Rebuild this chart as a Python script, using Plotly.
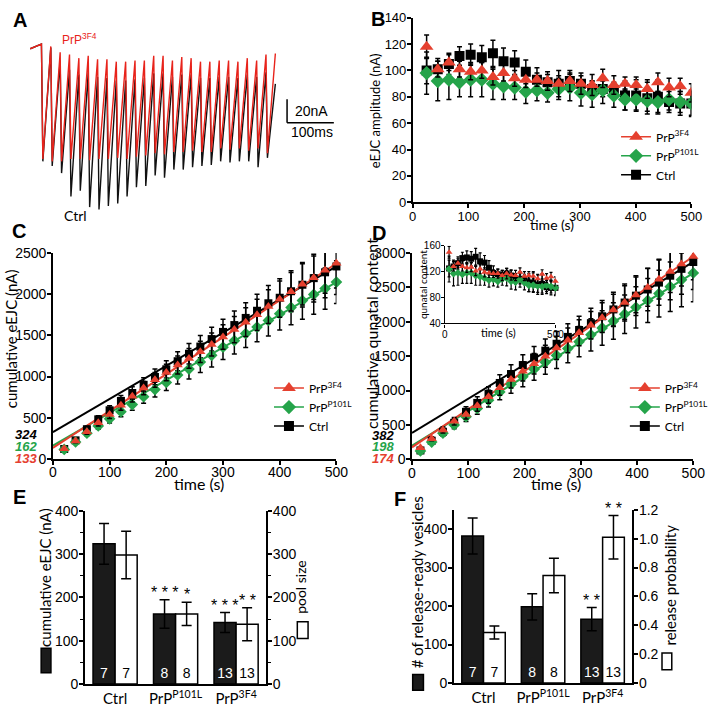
import plotly.graph_objects as go

W, H = 718, 708

# ======================= DATA =======================
# Panel A: example eEJC trains (nA) at 50 Hz
pulse_times_ms = [0, 20, 40, 60, 80, 100, 120, 140, 160, 180, 200, 220, 240,
                  260, 280, 300, 320, 340, 360, 380, 400, 420, 440, 460, 480]
a_red_top_nA = [4, 2, -3, -5, -8, -6, -9, -9, -11, -11, -10, -10, -6, -6, -10,
                -7, -8, -11, -11, -10, -10, -11, -8, -10, -5]
a_red_trough_nA = [-94, -96, -96, -94, -94, -95, -94, -94, -93, -94, -92, -91, -89,
                   -90, -88, -88, -87, -88, -88, -85, -86, -85, -87, -85, -89]
a_red_end_nA = -4
a_black_top_nA = [4, 1, -10, -18, -22, -20, -24, -25, -27, -27, -26, -25, -21, -21,
                  -24, -22, -22, -25, -25, -24, -24, -25, -22, -24, -20]
a_black_trough_nA = [-96, -100, -106, -126, -121, -135, -137, -134, -132, -126, -118,
                     -117, -108, -110, -103, -103, -101, -100, -99, -96, -97, -96,
                     -96, -101, -93]
a_black_end_nA = -30
a_baseline_nA = 0
scalebar_ms = 100
scalebar_nA = 20

# Panel B: eEJC amplitude (nA)
b_time_s = [25, 45, 65, 84, 104, 124, 144, 163, 183, 203, 223, 242, 262, 282, 302,
            322, 341, 361, 381, 401, 421, 440, 460, 480, 500]
b_3f4 = [118, 101, 106, 101, 99, 100, 95, 98, 94, 93, 93, 92, 90, 92, 90, 89, 94,
         89, 90, 89, 86, 91, 87, 88, 83]
b_3f4_err = [9, 6, 6, 6, 6, 6, 6, 6, 6, 6, 5, 7, 10, 8, 8, 8, 7, 7, 5, 6, 7, 7, 7, 6, 7]
b_p101l = [98, 92, 93, 91, 93, 93, 90, 88, 87, 84, 85, 83, 86, 87, 83, 82, 85, 81,
           78, 78, 77, 76, 78, 76, 75]
b_p101l_err = [16, 15, 15, 11, 13, 13, 12, 10, 9, 9, 8, 7, 8, 10, 10, 10, 10, 9, 8,
               8, 8, 8, 8, 8, 9]
b_ctrl = [100, 101, 105, 111, 112, 110, 113, 107, 106, 99, 93, 91, 90, 92, 90, 86,
          86, 85, 81, 81, 79, 80, 76, 75, 75]
b_ctrl_err = [10, 8, 8, 7, 8, 9, 10, 10, 9, 9, 9, 6, 6, 6, 6, 6, 6, 6, 11, 12, 12,
              13, 8, 9, 10]

# Panel C: cumulative eEJC (nA)
c_time_s = [20, 40, 60, 80, 100, 120, 140, 160, 180, 200, 220, 240, 260, 280, 300,
            320, 340, 360, 380, 400, 420, 440, 460, 480, 500]
c_ctrl = [120, 225, 360, 480, 590, 704, 800, 900, 995, 1088, 1186, 1277, 1364, 1455,
          1542, 1625, 1712, 1799, 1890, 1957, 2036, 2115, 2195, 2266, 2337]
c_ctrl_err = [15, 25, 35, 45, 55, 65, 75, 85, 95, 105, 115, 125, 135, 145, 155, 170,
              185, 200, 215, 230, 250, 270, 290, 310, 340]
c_3f4 = [122, 217, 328, 439, 540, 650, 760, 860, 960, 1050, 1140, 1220, 1300, 1390,
         1480, 1570, 1660, 1750, 1850, 1940, 2030, 2120, 2200, 2290, 2375]
c_3f4_err = [12, 20, 30, 40, 50, 60, 70, 80, 90, 100, 110, 120, 130, 140, 150, 160,
             175, 190, 205, 220, 235, 250, 265, 280, 300]
c_p101l = [115, 205, 311, 400, 486, 573, 660, 755, 842, 929, 1020, 1091, 1178, 1257,
           1356, 1435, 1522, 1601, 1681, 1764, 1839, 1922, 1997, 2068, 2147]
c_p101l_err = [12, 20, 30, 40, 50, 60, 70, 80, 90, 100, 110, 120, 130, 140, 150, 160,
               170, 180, 190, 200, 210, 225, 240, 250, 260]
# linear fits: [Ctrl, P101L, 3F4]
c_fit_intercept = [324, 162, 133]
c_fit_slope = [4.03, 3.97, 4.48]

# Panel D: cumulative quantal content
d_time_s = [15, 35, 55, 75, 96, 116, 136, 156, 176, 197, 217, 237, 257, 277, 297,
            318, 338, 358, 378, 398, 419, 439, 459, 479, 500]
d_ctrl = [128, 270, 400, 530, 690, 820, 950, 1110, 1240, 1370, 1480, 1580, 1680,
          1780, 1880, 1980, 2080, 2180, 2280, 2380, 2470, 2570, 2670, 2770, 2870]
d_ctrl_err = [20, 35, 50, 60, 75, 90, 105, 120, 135, 150, 160, 170, 180, 190, 200,
              215, 230, 250, 270, 290, 310, 330, 350, 370, 400]
d_3f4 = [166, 298, 426, 554, 650, 780, 910, 1040, 1160, 1280, 1390, 1500, 1620,
         1730, 1840, 1950, 2060, 2170, 2280, 2390, 2500, 2620, 2730, 2840, 2950]
d_3f4_err = [15, 30, 45, 55, 65, 80, 95, 110, 125, 140, 150, 160, 170, 180, 190,
             200, 215, 230, 245, 260, 275, 290, 305, 320, 340]
d_p101l = [120, 250, 380, 500, 620, 740, 860, 980, 1090, 1200, 1310, 1410, 1510,
           1610, 1710, 1810, 1910, 2010, 2110, 2210, 2310, 2410, 2510, 2610, 2710]
d_p101l_err = [15, 30, 45, 55, 70, 85, 100, 115, 130, 145, 160, 175, 190, 205, 220,
               235, 250, 265, 280, 300, 320, 340, 360, 390, 420]
d_fit_intercept = [382, 198, 174]
d_fit_slope = [4.98, 5.02, 5.55]

# Panel D inset: quantal content
ins_time_s = [20, 40, 60, 80, 100, 120, 140, 160, 180, 200, 220, 240, 260, 280, 300,
              320, 340, 360, 380, 400, 420, 440, 460, 480, 500]
ins_3f4 = [150, 128, 133, 128, 126, 127, 121, 124, 119, 118, 117, 117, 114, 117, 115,
           114, 119, 113, 114, 113, 109, 116, 110, 112, 105]
ins_3f4_err = [9, 7, 7, 7, 7, 7, 7, 7, 7, 7, 6, 7, 8, 8, 8, 8, 7, 7, 6, 7, 7, 7, 7, 7, 7]
ins_p101l = [124, 117, 118, 116, 118, 118, 114, 112, 110, 107, 108, 105, 109, 110,
             105, 104, 108, 103, 99, 99, 98, 97, 99, 97, 95]
ins_p101l_err = [20, 19, 19, 14, 16, 16, 15, 13, 11, 11, 10, 9, 10, 12, 12, 12, 12,
                 11, 10, 10, 10, 10, 10, 10, 11]
ins_ctrl = [125, 128, 133, 141, 142, 140, 143, 136, 134, 126, 118, 116, 114, 117,
            114, 109, 109, 108, 103, 103, 100, 101, 96, 95, 95]
ins_ctrl_err = [13, 10, 10, 9, 10, 11, 13, 13, 11, 11, 11, 8, 8, 8, 8, 8, 8, 8, 14,
                15, 15, 16, 10, 11, 12]

# Panel E
groups = ["Ctrl", "PrP<sup>P101L</sup>", "PrP<sup>3F4</sup>"]
e_eejc = [324, 162, 142]
e_eejc_err = [47, 33, 23]
e_pool = [298, 162, 138]
e_pool_err = [55, 27, 38]
e_n = [7, 8, 13]
e_eejc_sig = ["", "* * *", "* * *"]
e_pool_sig = ["", "*", "* *"]

# Panel F
f_rrv = [382, 198, 166]
f_rrv_err = [47, 34, 30]
f_prob = [0.35, 0.745, 1.01]
f_prob_err = [0.045, 0.12, 0.15]
f_n = [7, 8, 13]
f_rrv_sig = ["", "", "* *"]
f_prob_sig = ["", "", "* *"]
f_prob_ticks = [0, 0.2, 0.4, 0.6, 0.8, 1.0, 1.2]
f_prob_ticktext = ["0", "0.2", "0.4", "0.6", "0.8", "1.0", "1.2"]

# ======================= STYLE =======================
RED = "#e5402f"
GREEN = "#25a44a"
BLACK = "#000000"
TRACE_RED = "#e8231b"
BARBLACK = "#1b1b1b"
TICKF = "Liberation Sans"
TF = "Lato"


def xd(a, b):
    return [a / W, b / W]


def yd(top, bottom):
    return [1 - bottom / H, 1 - top / H]


def axis(domain, rng, anchor, size=14, **kw):
    d = dict(domain=domain, range=rng, anchor=anchor, showline=True,
             linecolor="black", linewidth=1.5, ticks="outside", ticklen=4,
             tickwidth=1.5, tickcolor="black", showgrid=False, zeroline=False,
             ticklabelstandoff=-2,
             tickfont=dict(family=TICKF, size=size, color="black"))
    d.update(kw)
    return d


annotations = []


def ann(text, x, y, size=14, color="black", family=TF, xanchor="center",
        yanchor="middle", angle=0):
    annotations.append(dict(text=text, x=x / W, y=1 - y / H, xref="paper",
                            yref="paper", showarrow=False, xanchor=xanchor,
                            yanchor=yanchor, textangle=angle,
                            font=dict(family=family, size=size, color=color)))


fig = go.Figure()

# ---------------- Panel A ----------------
A_X0_PX, A_PX_PER_MS = 38.3, 0.4785
A_Y0_PX, A_PX_PER_NA = 41.7, 1.2
A_LEAD_MS, A_FALL_MS, A_INTERVAL_MS = -24, 3, 20


def train_path(tops, troughs, end_val):
    xs, ys = [A_LEAD_MS], [a_baseline_nA]
    for t, top, tr in zip(pulse_times_ms, tops, troughs):
        xs += [t, t + A_FALL_MS]
        ys += [top, tr]
    xs.append(pulse_times_ms[-1] + A_INTERVAL_MS)
    ys.append(end_val)
    return xs, ys


bx, by = train_path(a_black_top_nA, a_black_trough_nA, a_black_end_nA)
rx, ry = train_path(a_red_top_nA, a_red_trough_nA, a_red_end_nA)
fig.add_trace(go.Scatter(x=bx, y=by, mode="lines", line=dict(color="#111111", width=1.4),
                         xaxis="x", yaxis="y", showlegend=False))
fig.add_trace(go.Scatter(x=rx, y=ry, mode="lines", line=dict(color=TRACE_RED, width=1.4),
                         xaxis="x", yaxis="y", showlegend=False))

# ---------------- Panel B ----------------
series_b = [("Ctrl", b_ctrl, b_ctrl_err, BLACK, "square", 10),
            ("PrP<sup>P101L</sup>", b_p101l, b_p101l_err, GREEN, "diamond", 11),
            ("PrP<sup>3F4</sup>", b_3f4, b_3f4_err, RED, "triangle-up", 12)]
for name, ys, err, col, sym, sz in series_b:
    fig.add_trace(go.Scatter(x=b_time_s, y=ys, mode="markers",
                             marker=dict(symbol=sym, size=sz, color=col),
                             error_y=dict(type="data", array=err, color="black",
                                          thickness=1.5, width=2.5),
                             xaxis="x2", yaxis="y2", showlegend=False))

# ---------------- Panel C / D ----------------
def cumulative_panel(xa, ya, times, sets, fit_b, fit_m):
    cols = [BLACK, GREEN, RED]
    for b0, m, col in zip(fit_b, fit_m, cols):
        fig.add_trace(go.Scatter(x=[0, 500], y=[b0, b0 + m * 500], mode="lines",
                                 line=dict(color=col, width=2), xaxis=xa, yaxis=ya,
                                 showlegend=False, cliponaxis=False))
    for ys, err, col, sym, sz in sets:
        fig.add_trace(go.Scatter(x=times, y=ys, mode="markers",
                                 marker=dict(symbol=sym, size=sz, color=col),
                                 error_y=dict(type="data", array=err, color="black",
                                              thickness=1.5, width=2.5),
                                 xaxis=xa, yaxis=ya, showlegend=False, cliponaxis=False))


cumulative_panel("x3", "y3", c_time_s,
                 [(c_ctrl, c_ctrl_err, BLACK, "square", 8),
                  (c_p101l, c_p101l_err, GREEN, "diamond", 9),
                  (c_3f4, c_3f4_err, RED, "triangle-up", 9)],
                 c_fit_intercept, c_fit_slope)
cumulative_panel("x4", "y4", d_time_s,
                 [(d_ctrl, d_ctrl_err, BLACK, "square", 8),
                  (d_p101l, d_p101l_err, GREEN, "diamond", 9),
                  (d_3f4, d_3f4_err, RED, "triangle-up", 9)],
                 d_fit_intercept, d_fit_slope)

# inset
for ys, err, col, sym, sz in [(ins_ctrl, ins_ctrl_err, BLACK, "square", 6),
                              (ins_p101l, ins_p101l_err, GREEN, "diamond", 6),
                              (ins_3f4, ins_3f4_err, RED, "triangle-up", 6)]:
    fig.add_trace(go.Scatter(x=ins_time_s, y=ys, mode="markers",
                             marker=dict(symbol=sym, size=sz, color=col),
                             error_y=dict(type="data", array=err, color="black",
                                          thickness=1.2, width=1.5),
                             xaxis="x5", yaxis="y5", showlegend=False, cliponaxis=False))

# legend entries (B, C, D)
for lg, xa, ya in [("legend", "x2", "y2"), ("legend2", "x3", "y3"), ("legend3", "x4", "y4")]:
    for name, col, sym, sz in [("PrP<sup>3F4</sup>", RED, "triangle-up", 12),
                               ("PrP<sup>P101L</sup>", GREEN, "diamond", 11),
                               ("Ctrl", BLACK, "square", 10)]:
        fig.add_trace(go.Scatter(x=[None], y=[None], mode="lines+markers", name=name,
                                 marker=dict(symbol=sym, size=sz, color=col),
                                 line=dict(color=col, width=1.5),
                                 xaxis=xa, yaxis=ya, legend=lg, showlegend=True))

# ---------------- Panels E / F ----------------
def bar_pair(xa, ya_left, ya_right, v1, e1, v2, e2, ns):
    fig.add_trace(go.Bar(x=groups, y=v1, offsetgroup="a",
                         marker=dict(color=BARBLACK, line=dict(color="black", width=1.5)),
                         error_y=dict(type="data", array=e1, color="black",
                                      thickness=1.5, width=5),
                         text=[str(n) for n in ns], textposition="inside",
                         insidetextanchor="start", textangle=0,
                         textfont=dict(color="white", size=14, family=TICKF),
                         xaxis=xa, yaxis=ya_left, showlegend=False))
    fig.add_trace(go.Bar(x=groups, y=v2, offsetgroup="b",
                         marker=dict(color="white", line=dict(color="black", width=1.5)),
                         error_y=dict(type="data", array=e2, color="black",
                                      thickness=1.5, width=5),
                         text=[str(n) for n in ns], textposition="inside",
                         insidetextanchor="start", textangle=0,
                         textfont=dict(color="black", size=14, family=TICKF),
                         xaxis=xa, yaxis=ya_right, showlegend=False))


bar_pair("x6", "y6", "y7", e_eejc, e_eejc_err, e_pool, e_pool_err, e_n)
bar_pair("x8", "y8", "y9", f_rrv, f_rrv_err, f_prob, f_prob_err, f_n)

# significance stars
BAR_SHIFT = 11
for xa, ya, vals, errs, sigs, sh in [("x6", "y6", e_eejc, e_eejc_err, e_eejc_sig, -BAR_SHIFT),
                                     ("x6", "y7", e_pool, e_pool_err, e_pool_sig, BAR_SHIFT),
                                     ("x8", "y8", f_rrv, f_rrv_err, f_rrv_sig, -BAR_SHIFT),
                                     ("x8", "y9", f_prob, f_prob_err, f_prob_sig, BAR_SHIFT)]:
    for g, v, e, s in zip(groups, vals, errs, sigs):
        if s:
            annotations.append(dict(text=s, x=g, y=v + e, xref=xa, yref=ya,
                                    showarrow=False, xshift=sh, yshift=-3,
                                    yanchor="bottom", xanchor="center",
                                    font=dict(family=TICKF, size=16, color="black")))

# ---------------- text ----------------
PL = dict(size=20, family=TICKF)
ann("<b>A</b>", 7, 12, xanchor="left", **PL)
ann("<b>B</b>", 373, 11, xanchor="left", **PL)
ann("<b>C</b>", 6, 228, xanchor="left", **PL)
ann("<b>D</b>", 374, 230, xanchor="left", **PL)
ann("<b>E</b>", 7, 500, xanchor="left", **PL)
ann("<b>F</b>", 397, 502, xanchor="left", **PL)

ann("PrP<sup>3F4</sup>", 57, 32, size=12, color=TRACE_RED, family=TICKF, xanchor="left")
ann("Ctrl", 59, 212, size=14, xanchor="left")
ann("20nA", 296, 105, size=14, family=TICKF, xanchor="left")
ann("100ms", 292, 127, size=14, family=TICKF, xanchor="left")

ann("eEJC amplitude (nA)", 379, 105, size=13, angle=-90)
ann("time (s)", 560, 222, size=14)

ann("cumulative eEJC (nA)", 8, 338, size=15, angle=-90)
ann("time (s)", 199, 486, size=16)
for v, col, yy in zip(c_fit_intercept, [BLACK, GREEN, RED], [436, 448.5, 461]):
    ann("<b><i>%d</i></b>" % v, 36, yy, size=13, color=col, family=TICKF, xanchor="right")

ann("cumulative qunatal content", 376, 333, size=16, angle=-90)
ann("time (s)", 565, 486, size=16)
for v, col, yy in zip(d_fit_intercept, [BLACK, GREEN, RED], [437, 449, 461]):
    ann("<b><i>%d</i></b>" % v, 401, yy, size=13, color=col, family=TICKF, xanchor="right")
ann("qunatal content", 428, 283, size=10, angle=-90)
ann("time (s)", 506, 332, size=11)

ann("cumulative eEJC (nA)", 42, 583, size=15, angle=-90)
ann("pool size", 303, 592, size=14, angle=-90)
ann("# of release-ready vesicles", 422, 588, size=15, angle=-90)
ann("release probability", 681, 590, size=15, angle=-90)

# ---------------- shapes ----------------
SB_T0, SB_Y0 = 525, -63
shapes = [
    dict(type="line", xref="x", yref="y", x0=SB_T0, x1=SB_T0, y0=SB_Y0,
         y1=SB_Y0 + scalebar_nA, line=dict(color="black", width=1.5)),
    dict(type="line", xref="x", yref="y", x0=SB_T0, x1=SB_T0 + scalebar_ms,
         y0=SB_Y0, y1=SB_Y0, line=dict(color="black", width=1.5)),
]


def key_box(x0, y0, x1, y1, fill):
    shapes.append(dict(type="rect", xref="paper", yref="paper", x0=x0 / W, x1=x1 / W,
                       y0=1 - y1 / H, y1=1 - y0 / H, fillcolor=fill,
                       line=dict(color="black", width=1.5)))


key_box(38, 655, 48, 680, BARBLACK)
key_box(300, 628, 311, 645, "white")
key_box(418, 682, 429, 698, BARBLACK)
key_box(673, 660, 683, 677, "white")

# ---------------- layout ----------------
a_xrange = [(20 - A_X0_PX) / A_PX_PER_MS, (350 - A_X0_PX) / A_PX_PER_MS]
a_yrange = [-(215 - A_Y0_PX) / A_PX_PER_NA, (A_Y0_PX - 20) / A_PX_PER_NA]
minor = dict(dtick=50, ticks="outside", ticklen=3, tickwidth=1.2, tickcolor="black")
LEG = dict(xanchor="left", yanchor="top", bgcolor="rgba(0,0,0,0)",
           font=dict(family=TF, size=12, color="black"), itemwidth=30,
           tracegroupgap=0, traceorder="normal")

fig.update_layout(
    width=W, height=H, margin=dict(l=0, r=0, t=0, b=0),
    paper_bgcolor="white", plot_bgcolor="white",
    barmode="group", bargap=0.27, bargroupgap=0,
    font=dict(family=TF, color="black"),
    xaxis=dict(domain=xd(20, 350), range=a_xrange, visible=False, anchor="y"),
    yaxis=dict(domain=yd(20, 215), range=a_yrange, visible=False, anchor="x"),
    xaxis2=axis(xd(418, 703), [0, 500], "y2", size=13, dtick=100, ticklabelstandoff=-3),
    yaxis2=axis(yd(10, 198.7), [0, 140], "x2", size=13, dtick=20),
    xaxis3=axis(xd(50, 340), [0, 500], "y3", dtick=100, ticklabelstandoff=-4),
    yaxis3=axis(yd(250.7, 461.3), [0, 2500], "x3", dtick=500),
    xaxis4=axis(xd(417.3, 705), [0, 500], "y4", dtick=100, ticklabelstandoff=-4),
    yaxis4=axis(yd(250.7, 461.7), [0, 3000], "x4", dtick=500),
    xaxis5=axis(xd(450.7, 564), [0, 500], "y5", size=10, tickvals=[0, 500],
                ticklen=3, linewidth=1.2, tickwidth=1.2),
    yaxis5=axis(yd(243.3, 322.7), [40, 160], "x5", size=10,
                tickvals=[40, 80, 120, 160], ticklen=3, linewidth=1.2, tickwidth=1.2),
    xaxis6=dict(domain=xd(82.7, 268.3), anchor="y6", type="category", showline=True,
                linecolor="black", linewidth=1.5, ticks="", showgrid=False,
                zeroline=False, tickfont=dict(family=TF, size=15, color="black")),
    yaxis6=axis(yd(514.5, 691.7), [0, 400], "x6", dtick=100, minor=minor),
    yaxis7=axis(yd(514.5, 691.7), [0, 400], "x6", dtick=100, minor=minor,
                overlaying="y6", side="right"),
    xaxis8=dict(domain=xd(460, 642.7), anchor="y8", type="category", showline=True,
                linecolor="black", linewidth=1.5, ticks="", showgrid=False,
                zeroline=False, tickfont=dict(family=TF, size=15, color="black")),
    yaxis8=axis(yd(513.4, 690.7), [0, 450], "x8", tickvals=[0, 100, 200, 300, 400]),
    yaxis9=axis(yd(513.4, 690.7), [0, 1.2], "x8", tickvals=f_prob_ticks,
                ticktext=f_prob_ticktext, overlaying="y8", side="right"),
    legend=dict(x=626 / W, y=1 - 117 / H, **LEG),
    legend2=dict(x=271 / W, y=1 - 374 / H, **LEG),
    legend3=dict(x=635 / W, y=1 - 374 / H, **LEG),
    annotations=annotations,
    shapes=shapes,
)

fig.write_html("out.html", config={"displayModeBar": False},
               post_script="document.body.style.margin='0px';"
                           "document.body.style.overflow='hidden';")
